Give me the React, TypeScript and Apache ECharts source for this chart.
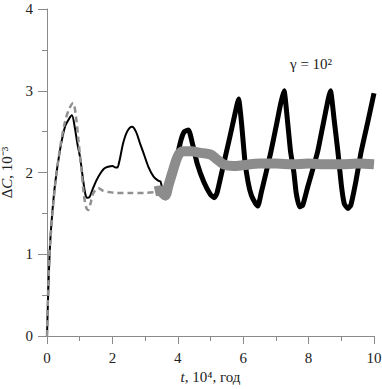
import React, { useEffect, useRef } from "react";
import * as echarts from "echarts";

const xTicks = [0, 2, 4, 6, 8, 10];
const yTicks = [0, 1, 2, 3, 4];

const blackEarly: number[][] = [
  [0, 0], [0.04, 0.56], [0.09, 1.09], [0.15, 1.45], [0.25, 1.87], [0.4, 2.28], [0.55, 2.56],
  [0.68, 2.66], [0.76, 2.7], [0.85, 2.55], [0.93, 2.35], [1.01, 2.19], [1.1, 1.92], [1.17, 1.74],
  [1.22, 1.69], [1.3, 1.7], [1.4, 1.8], [1.52, 1.91], [1.65, 2.0], [1.75, 2.05], [1.87, 2.07],
  [2.0, 2.08], [2.1, 2.06], [2.15, 2.06], [2.22, 2.15], [2.33, 2.36], [2.45, 2.5], [2.6, 2.56],
  [2.72, 2.5], [2.85, 2.35], [2.95, 2.24], [3.1, 2.07], [3.26, 1.95], [3.4, 1.9], [3.47, 1.89],
  [3.52, 1.8], [3.57, 1.67],
];

const blackLate: number[][] = [
  [3.57, 1.67], [3.65, 1.75], [3.8, 1.95], [3.95, 2.15], [4.1, 2.4], [4.2, 2.5], [4.33, 2.52],
  [4.45, 2.35], [4.6, 2.1], [4.8, 1.88], [5.0, 1.73], [5.12, 1.69], [5.2, 1.75], [5.4, 2.1],
  [5.6, 2.45], [5.75, 2.72], [5.86, 2.9], [5.95, 2.6], [6.05, 2.15], [6.15, 1.88], [6.25, 1.72],
  [6.38, 1.62], [6.45, 1.59], [6.55, 1.75], [6.7, 2.0], [6.84, 2.24], [7.0, 2.55], [7.15, 2.85],
  [7.25, 3.0], [7.35, 2.65], [7.45, 2.25], [7.55, 2.0], [7.62, 1.75], [7.72, 1.58], [7.82, 1.6],
  [7.97, 1.82], [8.1, 2.0], [8.28, 2.26], [8.45, 2.6], [8.6, 2.9], [8.67, 3.0], [8.78, 2.65],
  [8.9, 2.24], [9.0, 1.85], [9.09, 1.62], [9.2, 1.56], [9.29, 1.6], [9.45, 1.9], [9.6, 2.24],
  [9.8, 2.6], [10, 2.97],
];

const grayEarly: number[][] = [
  [0, 0], [0.04, 0.6], [0.1, 1.15], [0.25, 1.85], [0.4, 2.3], [0.55, 2.62], [0.68, 2.78],
  [0.8, 2.85], [0.88, 2.7], [0.96, 2.4], [1.05, 2.05], [1.13, 1.72], [1.2, 1.57], [1.26, 1.54],
  [1.33, 1.62], [1.42, 1.75], [1.57, 1.81], [1.7, 1.78], [1.9, 1.76], [2.14, 1.75], [2.5, 1.75],
  [3.0, 1.75], [3.3, 1.76],
];

const grayLate: number[][] = [
  [3.3, 1.77], [3.45, 1.78], [3.55, 1.74], [3.62, 1.72], [3.72, 1.85], [3.85, 2.02], [4.0, 2.2],
  [4.15, 2.26], [4.4, 2.26], [4.7, 2.24], [5.0, 2.22], [5.2, 2.16], [5.4, 2.1], [5.7, 2.08],
  [6.0, 2.09], [6.5, 2.11], [7.0, 2.11], [7.5, 2.1], [8.0, 2.11], [8.5, 2.1], [9.0, 2.1],
  [9.5, 2.11], [10, 2.1],
];

const FONT = "Liberation Serif";

export default function App() {
  const ref = useRef<HTMLDivElement>(null);
  useEffect(() => {
    if (!ref.current) return;
    const chart = echarts.init(ref.current, undefined, { renderer: "svg" });
    const axisColor = "#8a8a8a";
    const nameStyle = {
      fontFamily: FONT,
      fontSize: 15,
      color: "#222",
      rich: { i: { fontFamily: FONT, fontSize: 15, color: "#222", fontStyle: "italic" } },
    };
    chart.setOption({
      animation: false,
      backgroundColor: "#fff",
      grid: { left: 47, right: 8, top: 9, bottom: 53, outerBoundsMode: "none", containLabel: false },
      xAxis: {
        type: "value",
        min: xTicks[0],
        max: xTicks[xTicks.length - 1],
        interval: 2,
        name: "{i|t}, 10⁴, год",
        nameLocation: "middle",
        nameGap: 28,
        nameTextStyle: nameStyle,
        axisLine: { onZero: false, lineStyle: { color: axisColor, width: 1 } },
        axisTick: { inside: false, length: 8, lineStyle: { color: axisColor } },
        minorTick: { show: true, splitNumber: 2, length: 5, lineStyle: { color: axisColor } },
        splitLine: { show: false },
        axisLabel: { fontFamily: FONT, fontSize: 15, color: "#222", margin: 14 },
      },
      yAxis: {
        type: "value",
        min: yTicks[0],
        max: yTicks[yTicks.length - 1],
        interval: 1,
        name: "Δ{i|C}, 10⁻³",
        nameLocation: "middle",
        nameGap: 27,
        nameTextStyle: nameStyle,
        axisLine: { show: true, lineStyle: { color: axisColor, width: 1 } },
        axisTick: { inside: false, length: 9, lineStyle: { color: axisColor } },
        minorTick: { show: true, splitNumber: 2, length: 5, lineStyle: { color: axisColor } },
        splitLine: { show: false },
        axisLabel: { fontFamily: FONT, fontSize: 15, color: "#222", margin: 14 },
      },
      graphic: [
        {
          type: "text",
          left: 290,
          top: 56,
          style: { text: "γ = 10²", fontFamily: FONT, fontSize: 15, fill: "#222" },
        },
      ],
      series: [
        {
          type: "line",
          data: blackEarly,
          showSymbol: false,
          smooth: 0.3,
          lineStyle: { color: "#000", width: 2 },
          z: 3,
        },
        {
          type: "line",
          data: grayEarly,
          showSymbol: false,
          smooth: 0.3,
          lineStyle: { color: "#909090", width: 2.5, type: [6, 4] },
          z: 4,
        },
        {
          type: "line",
          data: blackLate,
          showSymbol: false,
          smooth: 0.15,
          lineStyle: { color: "#000", width: 5, join: "round" },
          z: 3,
        },
        {
          type: "line",
          data: grayLate,
          showSymbol: false,
          smooth: 0.3,
          lineStyle: { color: "#8c8c8c", width: 10 },
          z: 4,
        },
      ],
    });
    return () => chart.dispose();
  }, []);
  return <div ref={ref} style={{ width: 382, height: 389, position: "absolute", left: 0, top: 0 }} />;
}
